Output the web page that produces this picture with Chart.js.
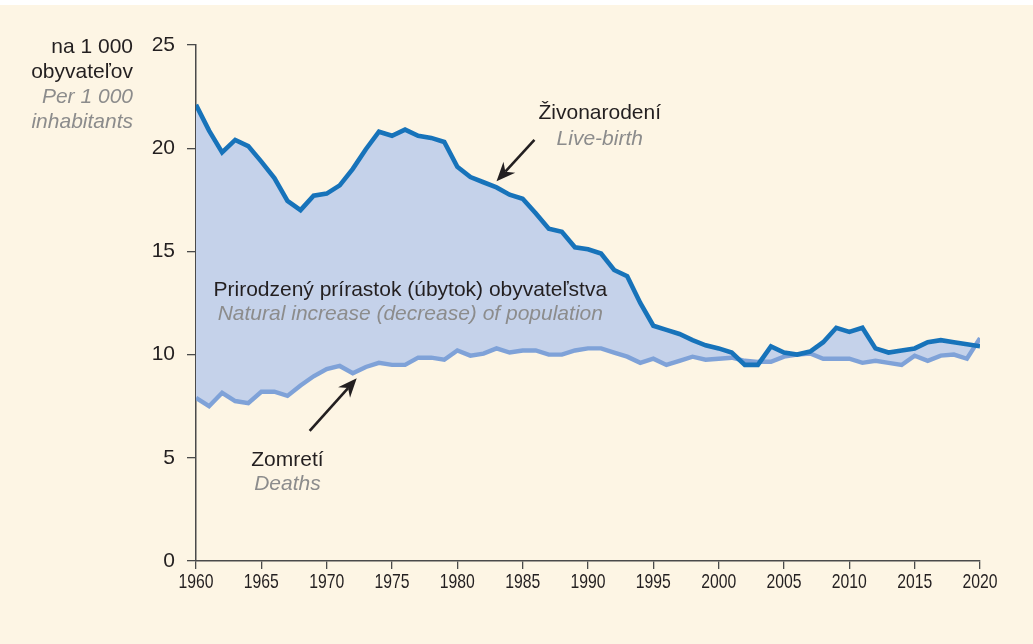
<!DOCTYPE html>
<html>
<head>
<meta charset="utf-8">
<script src="https://cdn.jsdelivr.net/npm/chart.js@4/dist/chart.umd.min.js"></script>
<style>
  html, body { margin: 0; padding: 0; background: #ffffff; }
  #wrap { position: absolute; left: 0; top: 0; width: 1033px; height: 644px; }
</style>
</head>
<body>
<div id="wrap"><canvas id="c" width="1033" height="644"></canvas></div>
<script>
const years = [1960,1961,1962,1963,1964,1965,1966,1967,1968,1969,
  1970,1971,1972,1973,1974,1975,1976,1977,1978,1979,
  1980,1981,1982,1983,1984,1985,1986,1987,1988,1989,
  1990,1991,1992,1993,1994,1995,1996,1997,1998,1999,
  2000,2001,2002,2003,2004,2005,2006,2007,2008,2009,
  2010,2011,2012,2013,2014,2015,2016,2017,2018,2019,2020];

const liveBirths = [22.1,20.85,19.8,20.4,20.1,19.35,18.55,17.45,17.0,17.7,
  17.8,18.2,19.0,19.95,20.8,20.6,20.9,20.6,20.5,20.3,
  19.1,18.6,18.35,18.1,17.75,17.55,16.85,16.1,15.95,15.2,
  15.1,14.9,14.1,13.8,12.5,11.4,11.2,11.0,10.7,10.45,
  10.3,10.1,9.5,9.5,10.4,10.1,10.0,10.15,10.6,11.3,
  11.1,11.3,10.3,10.1,10.2,10.3,10.6,10.7,10.6,10.5,10.4];

const deaths = [7.9,7.5,8.15,7.75,7.65,8.2,8.2,8.0,8.5,8.95,
  9.3,9.45,9.1,9.4,9.6,9.5,9.5,9.85,9.85,9.75,
  10.2,9.95,10.05,10.3,10.1,10.2,10.2,10.0,10.0,10.2,
  10.3,10.3,10.1,9.9,9.6,9.8,9.5,9.7,9.9,9.75,
  9.8,9.85,9.7,9.65,9.65,9.9,10.0,10.05,9.8,9.8,
  9.8,9.6,9.7,9.6,9.5,9.95,9.7,9.95,10.0,9.8,10.8];

const xTicks = [1960,1965,1970,1975,1980,1985,1990,1995,2000,2005,2010,2015,2020];
const yTicks = [0,5,10,15,20,25];

const FONT = '"Liberation Sans", Arial, Helvetica, sans-serif';
const DARK = '#231f20';
const GREY = '#8c8c8c';
const AXIS = '#4a4a4a';

const birthPts = years.map((y, i) => ({x: y, y: liveBirths[i]}));
const deathPts = years.map((y, i) => ({x: y, y: deaths[i]}));

const bgPlugin = {
  id: 'bg',
  beforeDraw(chart) {
    const ctx = chart.ctx;
    ctx.save();
    ctx.fillStyle = '#ffffff';
    ctx.fillRect(0, 0, chart.width, chart.height);
    ctx.fillStyle = '#fdf5e4';
    ctx.fillRect(0, 5, chart.width, chart.height - 5);
    ctx.restore();
  }
};

function arrow(ctx, x1, y1, x2, y2) {
  const ang = Math.atan2(y2 - y1, x2 - x1);
  const len = 19, half = 8, notch = 13;
  ctx.save();
  ctx.strokeStyle = DARK;
  ctx.fillStyle = DARK;
  ctx.lineWidth = 2.6;
  ctx.beginPath();
  ctx.moveTo(x1, y1);
  ctx.lineTo(x2 - Math.cos(ang) * notch, y2 - Math.sin(ang) * notch);
  ctx.stroke();
  ctx.translate(x2, y2);
  ctx.rotate(ang);
  ctx.beginPath();
  ctx.moveTo(0, 0);
  ctx.lineTo(-len, -half);
  ctx.lineTo(-notch, 0);
  ctx.lineTo(-len, half);
  ctx.closePath();
  ctx.fill();
  ctx.restore();
}

const annoPlugin = {
  id: 'anno',
  afterDraw(chart) {
    const ctx = chart.ctx;
    const xs = chart.scales.x, ys = chart.scales.y;
    const px = v => xs.getPixelForValue(v);
    const py = v => ys.getPixelForValue(v);
    ctx.save();
    ctx.textBaseline = 'middle';

    // condensed x tick labels (narrow face emulated)
    ctx.textAlign = 'center';
    ctx.font = '21px ' + FONT;
    ctx.fillStyle = DARK;
    const squeeze = 0.75;
    xs.ticks.forEach(t => {
      ctx.save();
      ctx.translate(px(t.value), xs.top + 21);
      ctx.scale(squeeze, 1);
      ctx.fillText(String(t.value), 0, 0);
      ctx.restore();
    });

    // y-axis title
    ctx.textAlign = 'right';
    ctx.font = '21px ' + FONT;
    ctx.fillStyle = DARK;
    ctx.fillText('na 1 000', 133, 47);
    ctx.fillText('obyvateľov', 133, 72);
    ctx.font = 'italic 21px ' + FONT;
    ctx.fillStyle = GREY;
    ctx.fillText('Per 1 000', 133, 97);
    ctx.fillText('inhabitants', 133, 122);

    ctx.textAlign = 'center';
    // Live births label
    ctx.font = '21px ' + FONT;
    ctx.fillStyle = DARK;
    ctx.fillText('Živonarodení', px(1990.9), py(21.7));
    ctx.font = 'italic 21px ' + FONT;
    ctx.fillStyle = GREY;
    ctx.fillText('Live-birth', px(1990.9), py(20.45));
    // Natural increase label
    ctx.font = '21px ' + FONT;
    ctx.fillStyle = DARK;
    ctx.fillText('Prirodzený prírastok (úbytok) obyvateľstva', px(1976.4), py(13.13));
    ctx.font = 'italic 21px ' + FONT;
    ctx.fillStyle = GREY;
    ctx.fillText('Natural increase (decrease) of population', px(1976.4), py(11.95));
    // Deaths label
    ctx.font = '21px ' + FONT;
    ctx.fillStyle = DARK;
    ctx.fillText('Zomretí', px(1967.0), py(4.9));
    ctx.font = 'italic 21px ' + FONT;
    ctx.fillStyle = GREY;
    ctx.fillText('Deaths', px(1967.0), py(3.73));
    ctx.restore();

    arrow(ctx, px(1985.9), py(20.4), px(1983.0), py(18.4));
    arrow(ctx, px(1968.7), py(6.3), px(1972.3), py(8.85));
  }
};

new Chart(document.getElementById('c'), {
  type: 'line',
  data: {
    datasets: [
      {
        label: 'Živonarodení',
        data: birthPts,
        borderColor: '#1773ba',
        borderWidth: 4.6,
        backgroundColor: '#c5d2ea',
        fill: 1,
        pointRadius: 0,
        tension: 0
      },
      {
        label: 'Zomretí',
        data: deathPts,
        borderColor: '#7fa2d8',
        borderWidth: 4.4,
        fill: false,
        pointRadius: 0,
        tension: 0
      }
    ]
  },
  options: {
    responsive: false,
    animation: false,
    devicePixelRatio: 1,
    layout: { padding: { top: 45, right: 53, left: 0, bottom: 0 } },
    plugins: {
      legend: { display: false },
      tooltip: { enabled: false },
      title: { display: false },
      filler: { drawTime: 'beforeDatasetsDraw' }
    },
    scales: {
      x: {
        type: 'linear',
        min: 1960,
        max: 2020,
        afterBuildTicks(s) { s.ticks = xTicks.map(v => ({value: v})); },
        afterFit(s) { s.height = 83; },
        ticks: {
          display: false,
          callback: v => String(v)
        },
        grid: { display: true, drawOnChartArea: false, drawTicks: true, tickLength: 8, color: AXIS, lineWidth: 1.3 },
        border: { display: true, color: AXIS, width: 1.5 }
      },
      y: {
        min: 0,
        max: 25,
        afterBuildTicks(s) { s.ticks = yTicks.map(v => ({value: v})); },
        afterFit(s) { s.width = 196; },
        ticks: {
          callback: v => String(v),
          color: DARK,
          font: { family: FONT, size: 21 },
          padding: 12
        },
        grid: { display: true, drawOnChartArea: false, drawTicks: true, tickLength: 9, color: AXIS, lineWidth: 1.3 },
        border: { display: true, color: AXIS, width: 1.5 }
      }
    }
  },
  plugins: [bgPlugin, annoPlugin]
});
</script>
</body>
</html>
